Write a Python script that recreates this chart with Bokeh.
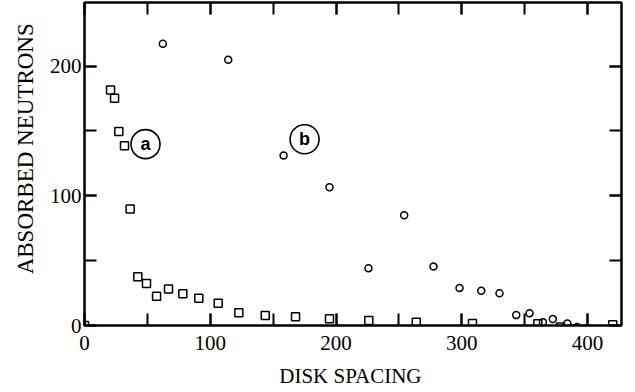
from bokeh.plotting import figure
from bokeh.models import LinearAxis, SingleIntervalTicker, Range1d, Title, CustomJSTickFormatter
from bokeh.core.properties import value
from bokeh.embed import file_html
from bokeh.resources import INLINE

# ---- data ----
spacing_a = [0, 20.7, 23.9, 27.3, 31.8, 36.3, 42.4, 49.3, 57.3, 66.8, 78.2, 90.9,
             106.3, 122.7, 143.7, 167.8, 194.8, 226.1, 263.8, 308.5, 360.5,
             378.5, 388.3, 396.3, 402.4, 420.0]
absorbed_a = [0, 181.5, 175.2, 149.5, 138.5, 89.8, 37.5, 32.3, 22.6, 28.2, 24.4, 21.1,
              17.2, 9.8, 7.7, 6.7, 5.2, 3.9, 2.6, 1.5, 1.3,
              -1.2, -2.5, -3.8, -3.8, 0.5]

spacing_b = [62.3, 114.3, 158.3, 194.8, 225.8, 254.2, 277.5, 298.2, 315.5, 330.0,
             343.3, 353.9, 364.5, 372.4, 383.9, 391.8, 399.7]
absorbed_b = [217.2, 204.9, 131.1, 106.5, 44.2, 84.9, 45.4, 29.0, 26.7, 24.9,
              8.0, 9.5, 2.6, 5.0, 1.5, -1.2, -2.0]

tag_labels = ["a", "b"]
tag_x = [48.5, 175.0]
tag_y = [139.8, 143.6]

x_label = "DISK  SPACING"
y_label = "ABSORBED  NEUTRONS"

SERIF = "Liberation Serif"

p = figure(width=634, height=390, output_backend="svg", toolbar_location=None,
           x_range=Range1d(0, 427), y_range=Range1d(0, 249),
           min_border_left=84, min_border_right=13, min_border_top=2, min_border_bottom=64,
           x_axis_label=x_label)

p.grid.visible = False
p.background_fill_color = "white"
p.border_fill_color = "white"
p.outline_line_color = "black"
p.outline_line_width = 2

def style_axis(ax, show_labels):
    ax.axis_line_color = "black"
    ax.axis_line_width = 2
    ax.major_tick_line_color = "black"
    ax.minor_tick_line_color = "black"
    ax.major_tick_line_width = 2
    ax.minor_tick_line_width = 2
    ax.major_tick_in = 12
    ax.major_tick_out = 0
    ax.minor_tick_in = 12
    ax.minor_tick_out = 0
    if show_labels:
        ax.major_label_text_font = SERIF
        ax.major_label_text_font_size = "21px"
        ax.major_label_text_color = "black"
        ax.axis_label_text_font = SERIF
        ax.axis_label_text_font_style = "normal"
        ax.axis_label_text_color = "black"
    else:
        ax.formatter = CustomJSTickFormatter(code="return ''")
        ax.major_label_standoff = 0

p.xaxis.ticker = SingleIntervalTicker(interval=100, num_minor_ticks=2)
p.yaxis.ticker = SingleIntervalTicker(interval=100, num_minor_ticks=2)
style_axis(p.xaxis[0], True)
style_axis(p.yaxis[0], True)
p.xaxis.major_label_standoff = 10
p.yaxis.major_label_standoff = 3
p.xaxis.axis_label_text_font_size = "21px"
p.xaxis.axis_label_standoff = 11

top = LinearAxis(ticker=SingleIntervalTicker(interval=100, num_minor_ticks=2))
right = LinearAxis(ticker=SingleIntervalTicker(interval=100, num_minor_ticks=2))
style_axis(top, False)
style_axis(right, False)
p.add_layout(top, "above")
p.add_layout(right, "right")

p.scatter(spacing_a, absorbed_a, marker="square", size=8, fill_color=None,
          line_color="black", line_width=1.5)
p.scatter(spacing_b, absorbed_b, marker="circle", size=7, fill_color=None,
          line_color="black", line_width=1.5)

p.scatter(tag_x, tag_y, marker="circle", size=29, fill_color=None,
          line_color="black", line_width=1.6)
p.text(tag_x, tag_y, text=tag_labels, text_font=value("Liberation Sans"),
       text_font_style="bold", text_font_size="18px", text_align="center",
       text_baseline="middle", text_color="black")

ytitle = Title(text=y_label, align="right", offset=15, standoff=17,
               text_font=SERIF, text_font_size="23px", text_font_style="normal",
               text_color="black")
p.add_layout(ytitle, "left")

open("out.html", "w").write(file_html(p, INLINE))
